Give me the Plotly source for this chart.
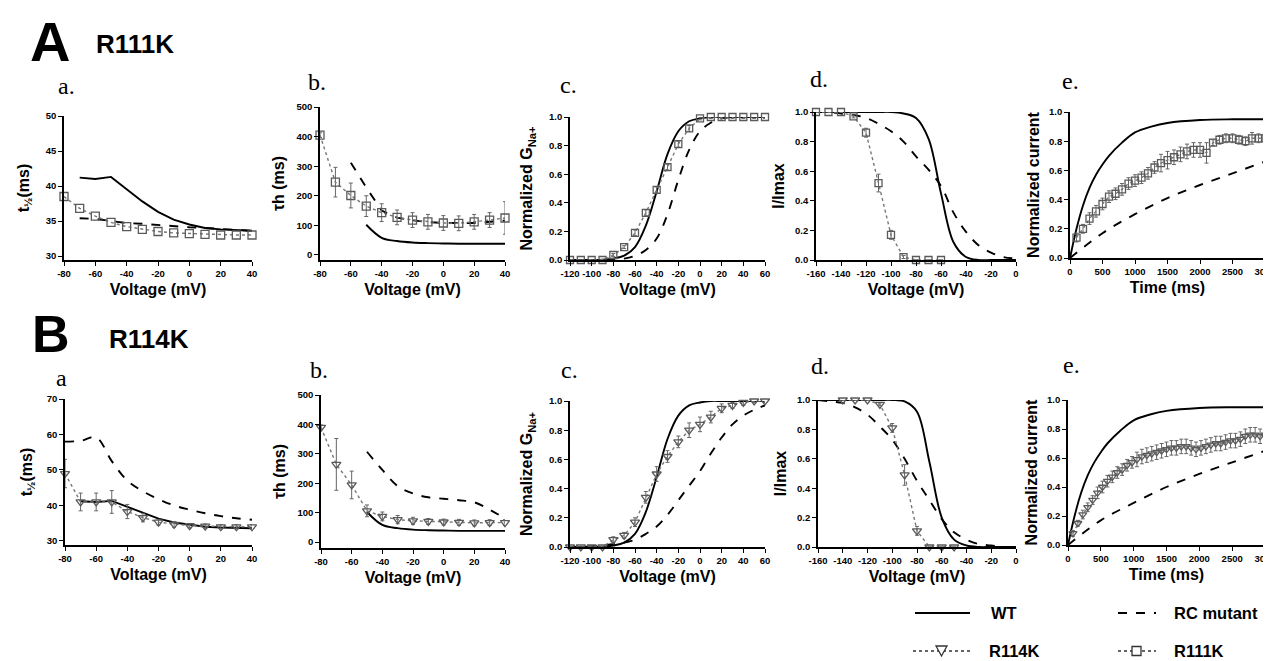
import plotly.graph_objects as go

W, H = 1271, 661

# ---------------- data ----------------
# column a : t1/2 (ms) vs voltage
V_AB = [-80, -70, -60, -50, -40, -30, -20, -10, 0, 10, 20, 30, 40]
R111K_thalf = [38.5, 36.8, 35.7, 34.8, 34.2, 33.8, 33.5, 33.3, 33.2, 33.1, 33.0, 33.0, 33.0]
R114K_thalf = [49.0, 41.0, 41.0, 41.0, 38.3, 36.6, 35.3, 34.7, 34.3, 34.2, 34.0, 34.0, 34.0]
R114K_thalf_err = [4.0, 2.5, 2.5, 3.2, 2.0, 1.2, 0.8, 0.8, 0.6, 0.6, 0.6, 0.6, 0.6]
WT_thalf_V = [-70, -60, -50, -40, -30, -20, -10, 0, 10, 20, 30, 40]
WT_thalf = [41.2, 41.0, 41.3, 39.6, 37.8, 36.3, 35.2, 34.5, 34.0, 33.8, 33.7, 33.6]
RC_A_thalf_V = [-70, -60, -50, -40, -30, -20, -10, 0, 10, 20, 30, 40]
RC_A_thalf = [35.4, 35.3, 35.0, 34.7, 34.6, 34.4, 34.3, 34.1, 34.0, 33.9, 33.8, 33.6]
RC_B_thalf = [58.0, 58.2, 59.2, 52.5, 47.0, 44.0, 41.8, 40.0, 38.8, 37.8, 37.0, 36.4, 36.0]

# column b : tau h (ms) vs voltage
R111K_tauh = [405, 246, 201, 165, 143, 127, 118, 112, 108, 107, 112, 118, 125]
R111K_tauh_err = [8, 50, 42, 35, 30, 25, 25, 25, 25, 25, 25, 25, 55]
R114K_tauh = [390, 264, 194, 106, 87, 76, 72, 70, 68, 67, 65, 66, 66]
R114K_tauh_err = [8, 88, 47, 20, 15, 14, 12, 10, 10, 10, 10, 10, 10]
WT_tauh_V = [-50, -40, -30, -20, -10, 0, 10, 20, 30, 40]
WT_tauh = [102, 58, 47, 42, 40, 39, 38, 38, 38, 38]
RC_A_tauh_V = [-60, -50, -40, -30, -20, -10, 0, 10, 20, 30, 40]
RC_A_tauh = [312, 228, 150, 126, 117, 111, 108, 107, 108, 112, 116]
RC_B_tauh_V = [-50, -40, -30, -20, -10, 0, 10, 20, 30, 40]
RC_B_tauh = [307, 245, 190, 165, 152, 147, 142, 135, 110, 80]

# column c : normalized GNa+ vs voltage
V_C = [-120, -110, -100, -90, -80, -70, -60, -50, -40, -30, -20, -10, 0, 10, 20, 30, 40, 50, 60]
R111K_gna = [0, 0, 0, 0, 0.035, 0.09, 0.19, 0.33, 0.49, 0.65, 0.81, 0.92, 0.99, 1, 1, 1, 1, 1, 1]
R111K_gna_err = [0, 0, 0, 0, 0.01, 0.01, 0.02, 0.02, 0.02, 0.02, 0.02, 0.02, 0.01, 0.01, 0.01, 0.01, 0.01, 0.01, 0.01]
R114K_gna = [0, 0, 0, 0, 0.05, 0.08, 0.17, 0.34, 0.50, 0.62, 0.72, 0.80, 0.84, 0.89, 0.95, 0.97, 0.99, 1.0, 1.0]
R114K_gna_err = [0, 0, 0, 0, 0.02, 0.02, 0.03, 0.04, 0.05, 0.04, 0.04, 0.05, 0.05, 0.04, 0.03, 0.02, 0.02, 0.01, 0.01]
WT_gna = [0, 0, 0, 0.002, 0.01, 0.03, 0.09, 0.24, 0.48, 0.74, 0.90, 0.97, 0.99, 1, 1, 1, 1, 1, 1]
RC_A_gna = [0, 0, 0, 0, 0, 0.01, 0.03, 0.07, 0.15, 0.32, 0.56, 0.77, 0.90, 0.96, 0.99, 1, 1, 1, 1]
RC_B_gna = [0, 0, 0.005, 0.01, 0.02, 0.03, 0.05, 0.09, 0.14, 0.22, 0.32, 0.42, 0.52, 0.64, 0.75, 0.84, 0.90, 0.94, 0.97]

# column d : I/Imax vs voltage
V_D = [-160, -150, -140, -130, -120, -110, -100, -90, -80, -70, -60, -50, -40, -30, -20, -10, 0]
R111K_inact_V = [-160, -150, -140, -130, -120, -110, -100, -90, -80, -70, -60]
R111K_inact = [1, 1, 1, 0.97, 0.86, 0.52, 0.17, 0.02, 0, 0, 0]
R111K_inact_err = [0, 0, 0, 0.01, 0.03, 0.06, 0.03, 0.01, 0, 0, 0]
R114K_inact_V = [-140, -130, -120, -110, -100, -90, -80, -70, -60, -50]
R114K_inact = [1, 1, 1, 0.97, 0.81, 0.49, 0.11, 0, 0, 0]
R114K_inact_err = [0, 0, 0, 0.01, 0.03, 0.07, 0.03, 0, 0, 0]
WT_A_inact = [1, 1, 1, 1, 1, 1, 1, 0.99, 0.96, 0.82, 0.45, 0.12, 0.02, 0, 0, 0, 0]
WT_B_inact = [1, 1, 1, 1, 1, 1, 1, 0.99, 0.92, 0.58, 0.20, 0.05, 0.01, 0, 0, 0, 0]
RC_A_inact = [1, 1, 0.99, 0.98, 0.96, 0.92, 0.87, 0.80, 0.70, 0.61, 0.50, 0.32, 0.19, 0.10, 0.05, 0.02, 0.01]
RC_B_inact = [1, 0.99, 0.98, 0.95, 0.90, 0.82, 0.73, 0.60, 0.45, 0.32, 0.19, 0.10, 0.05, 0.02, 0.01, 0, 0]

# column e : normalized current vs time
T_WT = [0, 100, 200, 300, 400, 500, 600, 800, 1000, 1250, 1500, 2000, 2500, 3000]
WT_rec = [0, 0.20, 0.36, 0.48, 0.57, 0.64, 0.70, 0.79, 0.86, 0.90, 0.925, 0.945, 0.95, 0.95]
T_RC = [0, 500, 1000, 1500, 2000, 2500, 3000]
RC_A_rec = [0, 0.17, 0.30, 0.41, 0.50, 0.58, 0.66]
RC_B_rec = [0, 0.17, 0.29, 0.40, 0.49, 0.57, 0.65]
T_R111K = [100, 200, 300, 400, 500, 600, 700, 800, 900, 1000, 1100, 1200, 1300, 1400, 1500,
           1600, 1700, 1800, 1900, 2000, 2100, 2200, 2300, 2400, 2500, 2600, 2700, 2800, 2900, 3000]
R111K_rec = [0.14, 0.20, 0.27, 0.32, 0.37, 0.42, 0.44, 0.47, 0.51, 0.53, 0.55, 0.58, 0.62, 0.65, 0.67,
             0.69, 0.71, 0.73, 0.74, 0.74, 0.72, 0.79, 0.81, 0.82, 0.82, 0.81, 0.80, 0.82, 0.82, 0.82]
R111K_rec_err = [0.03, 0.03, 0.04, 0.04, 0.04, 0.04, 0.04, 0.04, 0.04, 0.04, 0.04, 0.04, 0.04, 0.06, 0.06,
                 0.05, 0.05, 0.05, 0.05, 0.05, 0.07, 0.02, 0.03, 0.03, 0.03, 0.03, 0.03, 0.04, 0.03, 0.03]
T_R114K = [75, 150, 225, 300, 375, 450, 525, 600, 675, 750, 825, 900, 975, 1050, 1125, 1200, 1275, 1350,
           1425, 1500, 1575, 1650, 1725, 1800, 1875, 1950, 2025, 2100, 2175, 2250, 2325, 2400, 2475,
           2550, 2625, 2700, 2775, 2850, 2925, 3000]
R114K_rec = [0.08, 0.15, 0.21, 0.26, 0.31, 0.36, 0.40, 0.44, 0.47, 0.50, 0.52, 0.55, 0.57, 0.59, 0.61,
             0.62, 0.63, 0.64, 0.65, 0.66, 0.67, 0.67, 0.68, 0.68, 0.67, 0.66, 0.67, 0.68, 0.69, 0.70,
             0.70, 0.71, 0.72, 0.72, 0.73, 0.75, 0.76, 0.76, 0.75, 0.76]
R114K_rec_err = [0.02, 0.02, 0.03, 0.03, 0.03] + [0.04] * 8 + [0.05] * 27

# tick labels
TICKS_AB = [-80, -60, -40, -20, 0, 20, 40]
TICKS_C = [-120, -100, -80, -60, -40, -20, 0, 20, 40, 60]
TICKS_D = [-160, -140, -120, -100, -80, -60, -40, -20, 0]
TICKS_E = [0, 500, 1000, 1500, 2000, 2500, 3000]
TICKS_NORM = [0, 0.2, 0.4, 0.6, 0.8, 1.0]

# ---------------- styling / layout ----------------
FONT = "Liberation Sans"
SERIF = "Liberation Serif"
GREY = "#5a5a5a"

fig = go.Figure()


def axn(i):
    return "" if i == 1 else str(i)


def line_trace(i, x, y, dash="solid", shape="linear"):
    fig.add_trace(go.Scatter(x=x, y=y, xaxis="x" + axn(i), yaxis="y" + axn(i), mode="lines",
                             line=dict(color="black", width=1.9, dash=dash, shape=shape),
                             hoverinfo="skip", cliponaxis=False))


def data_trace(i, x, y, err, symbol, size=8):
    kw = {}
    if err is not None:
        kw["error_y"] = dict(type="data", array=err, color="#666666", thickness=1, width=2)
    fig.add_trace(go.Scatter(x=x, y=y, xaxis="x" + axn(i), yaxis="y" + axn(i), mode="lines+markers",
                             line=dict(color="#777777", width=1.4, dash="dot"),
                             marker=dict(symbol=symbol, size=size, color=GREY,
                                         line=dict(color=GREY, width=1.3)),
                             hoverinfo="skip", cliponaxis=False, **kw))


# top row (R111K)
line_trace(1, RC_A_thalf_V, RC_A_thalf, dash="dash")
line_trace(1, WT_thalf_V, WT_thalf)
data_trace(1, V_AB, R111K_thalf, None, "square-open")

line_trace(2, RC_A_tauh_V, RC_A_tauh, dash="dash")
line_trace(2, WT_tauh_V, WT_tauh, shape="spline")
data_trace(2, V_AB, R111K_tauh, R111K_tauh_err, "square-open")

line_trace(3, V_C, RC_A_gna, dash="dash", shape="spline")
line_trace(3, V_C, WT_gna, shape="spline")
data_trace(3, V_C, R111K_gna, R111K_gna_err, "square-open", size=7)

line_trace(4, V_D, RC_A_inact, dash="dash", shape="spline")
line_trace(4, V_D, WT_A_inact, shape="spline")
data_trace(4, R111K_inact_V, R111K_inact, R111K_inact_err, "square-open", size=7)

line_trace(5, T_RC, RC_A_rec, dash="dash", shape="spline")
line_trace(5, T_WT, WT_rec, shape="spline")
data_trace(5, T_R111K, R111K_rec, R111K_rec_err, "square-open", size=7)

# bottom row (R114K)
line_trace(6, V_AB, RC_B_thalf, dash="dash", shape="spline")
line_trace(6, WT_thalf_V, WT_thalf)
data_trace(6, V_AB, R114K_thalf, R114K_thalf_err, "triangle-down-open")

line_trace(7, RC_B_tauh_V, RC_B_tauh, dash="dash", shape="spline")
line_trace(7, WT_tauh_V, WT_tauh, shape="spline")
data_trace(7, V_AB, R114K_tauh, R114K_tauh_err, "triangle-down-open")

line_trace(8, V_C, RC_B_gna, dash="dash", shape="spline")
line_trace(8, V_C, WT_gna, shape="spline")
data_trace(8, V_C, R114K_gna, R114K_gna_err, "triangle-down-open")

line_trace(9, V_D, RC_B_inact, dash="dash", shape="spline")
line_trace(9, V_D, WT_B_inact, shape="spline")
data_trace(9, R114K_inact_V, R114K_inact, R114K_inact_err, "triangle-down-open")

line_trace(10, T_RC, RC_B_rec, dash="dash", shape="spline")
line_trace(10, T_WT, WT_rec, shape="spline")
data_trace(10, T_R114K, R114K_rec, R114K_rec_err, "triangle-down-open", size=7)

# panel geometry in pixels: (x_left, x_right, y_top, y_bottom)
PANELS = [
    dict(px=(56, 244, 108, 252), xr=[-80, 40], yr=[29.43, 50], xt=TICKS_AB, yt=[30, 35, 40, 45, 50],
         ytitle="t<sub>½</sub>(ms)", xtitle="Voltage (mV)", ystand=12, yfmt=None),
    dict(px=(312, 497, 99, 252), xr=[-80, 40], yr=[-17, 500], xt=TICKS_AB, yt=[0, 100, 200, 300, 400, 500],
         ytitle="τh (ms)", xtitle="Voltage (mV)", ystand=8, yfmt=None),
    dict(px=(562, 757, 109, 252), xr=[-120, 60], yr=[0, 1], xt=TICKS_C, yt=TICKS_NORM,
         ytitle="Normalized G<sub>Na+</sub>", xtitle="Voltage (mV)", ystand=12, yfmt=".1f"),
    dict(px=(808, 1008, 104, 252), xr=[-160, 0], yr=[0, 1], xt=TICKS_D, yt=TICKS_NORM,
         ytitle="I/Imax", xtitle="Voltage (mV)", ystand=6, yfmt=".1f"),
    dict(px=(1062, 1257, 104, 250), xr=[0, 3000], yr=[0, 1], xt=TICKS_E, yt=TICKS_NORM,
         ytitle="Normalized current", xtitle="Time (ms)", ystand=5, yfmt=".1f"),
    dict(px=(57, 244, 391, 537), xr=[-80, 40], yr=[28.87, 70], xt=TICKS_AB, yt=[30, 40, 50, 60, 70],
         ytitle="t<sub>½</sub>(ms)", xtitle="Voltage (mV)", ystand=10, yfmt=None),
    dict(px=(313, 497, 387, 540), xr=[-80, 40], yr=[-20.4, 500], xt=TICKS_AB, yt=[0, 100, 200, 300, 400, 500],
         ytitle="τh (ms)", xtitle="Voltage (mV)", ystand=8, yfmt=None),
    dict(px=(562, 757, 393, 539), xr=[-120, 60], yr=[0, 1], xt=TICKS_C, yt=TICKS_NORM,
         ytitle="Normalized G<sub>Na+</sub>", xtitle="Voltage (mV)", ystand=12, yfmt=".1f"),
    dict(px=(810, 1008, 392, 539), xr=[-160, 0], yr=[0, 1], xt=TICKS_D, yt=TICKS_NORM,
         ytitle="I/Imax", xtitle="Voltage (mV)", ystand=6, yfmt=".1f"),
    dict(px=(1060, 1257, 392, 537), xr=[0, 3000], yr=[0, 1], xt=TICKS_E, yt=TICKS_NORM,
         ytitle="Normalized current", xtitle="Time (ms)", ystand=5, yfmt=".1f"),
]

layout_axes = {}
for i, p in enumerate(PANELS, start=1):
    x0, x1, y0, y1 = p["px"]
    common = dict(showline=True, linecolor="black", linewidth=1.6, showgrid=False, zeroline=False,
                  ticks="outside", ticklen=4, tickwidth=1.4, tickcolor="black",
                  tickfont=dict(family=FONT, size=9.5, color="black", weight="bold"),
                  automargin=False, fixedrange=True)
    layout_axes["xaxis" + axn(i)] = dict(
        common, domain=[x0 / W, x1 / W], range=p["xr"], anchor="y" + axn(i),
        tickmode="array", tickvals=p["xt"], ticktext=[str(v) for v in p["xt"]], tickangle=0,
        title=dict(text="<b>" + p["xtitle"] + "</b>", standoff=6,
                   font=dict(family=FONT, size=16, color="black")))
    layout_axes["yaxis" + axn(i)] = dict(
        common, domain=[1 - y1 / H, 1 - y0 / H], range=p["yr"], anchor="x" + axn(i),
        tickmode="array", tickvals=p["yt"],
        ticktext=[(format(v, p["yfmt"]) if p["yfmt"] else str(v)) for v in p["yt"]],
        title=dict(text="<b>" + p["ytitle"] + "</b>", standoff=p["ystand"],
                   font=dict(family=FONT, size=16, color="black")))

annotations = []


def text_px(x, y, s, size, family=FONT, bold=True, xanchor="center"):
    annotations.append(dict(x=x / W, y=1 - y / H, xref="paper", yref="paper", showarrow=False,
                            text=("<b>" + s + "</b>") if bold else s, xanchor=xanchor, yanchor="middle",
                            borderpad=0, font=dict(family=family, size=size, color="black")))


text_px(42, 33, "A", 56)
text_px(127, 36, "R111K", 26)
text_px(43, 326, "B", 52)
text_px(141, 331, "R114K", 26)
for (x, y, s) in [(58, 78, "a."), (309, 74, "b."), (560, 77, "c."), (811, 71, "d."), (1062, 73, "e."),
                  (53, 370, "a"), (311, 362, "b."), (561, 362, "c."), (812, 358, "d."), (1063, 357, "e.")]:
    text_px(x, y, s, 24, family=SERIF, bold=False)

# legend
LEG_Y1, LEG_Y2 = 605, 643
text_px(982, LEG_Y1, "WT", 16.5, xanchor="left")
text_px(1165, LEG_Y1, "RC mutant", 16.5, xanchor="left")
text_px(980, LEG_Y2, "R114K", 16.5, xanchor="left")
text_px(1165, LEG_Y2, "R111K", 16.5, xanchor="left")


def pline(x0, y0, x1, y1, dash="solid", width=1.8, color="black"):
    return dict(type="line", xref="paper", yref="paper", x0=x0 / W, y0=1 - y0 / H, x1=x1 / W, y1=1 - y1 / H,
                line=dict(color=color, width=width, dash=dash))


shapes = [
    pline(907, LEG_Y1, 962, LEG_Y1),
    pline(1110, LEG_Y1, 1148, LEG_Y1, dash="dash"),
    pline(905, LEG_Y2, 962, LEG_Y2, dash="dot", width=1.6, color="#333333"),
    pline(1110, LEG_Y2, 1148, LEG_Y2, dash="dot", width=1.6, color="#333333"),
    dict(type="rect", xref="paper", yref="paper", x0=1124 / W, x1=1133 / W,
         y0=1 - (LEG_Y2 + 4.5) / H, y1=1 - (LEG_Y2 - 4.5) / H,
         line=dict(color="#333333", width=1.3), fillcolor="white"),
    dict(type="path", xref="paper", yref="paper",
         path=f"M {928 / W},{1 - (LEG_Y2 - 5) / H} L {939 / W},{1 - (LEG_Y2 - 5) / H} "
              f"L {933.5 / W},{1 - (LEG_Y2 + 5) / H} Z",
         line=dict(color="#333333", width=1.3), fillcolor="white"),
]

fig.update_layout(
    width=W, height=H, margin=dict(l=0, r=0, t=0, b=0),
    paper_bgcolor="white", plot_bgcolor="white", showlegend=False,
    font=dict(family=FONT, color="black"),
    annotations=annotations, shapes=shapes, **layout_axes)

fig.write_html("out.html")
